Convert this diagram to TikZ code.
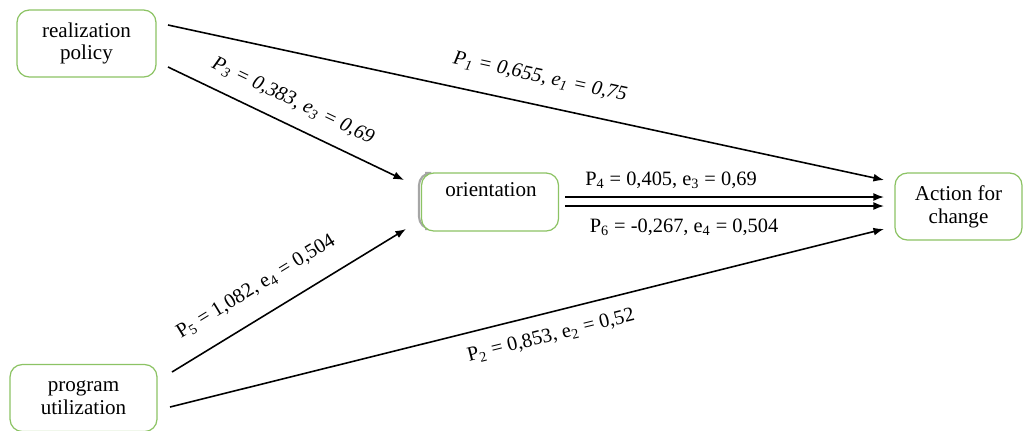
\documentclass[tikz,border=0pt]{standalone}
\usepackage{fontspec}
\setmainfont{Liberation Serif}
\usetikzlibrary{arrows.meta}
\definecolor{boxgreen}{RGB}{140,195,100}
\begin{document}
\begin{tikzpicture}[x=0.02cm,y=-0.02cm,
  box/.style={draw=boxgreen,line width=0.7pt,rounded corners=7pt,fill=white,inner sep=0pt,align=center,font=\fontsize{12}{13}\selectfont},
  conn/.style={line width=0.9pt,-{Latex[length=6pt,width=4.5pt]}},
  lbl/.style={font=\fontsize{11.6}{13}\selectfont,inner sep=1pt}]
\useasboundingbox (0,0) rectangle (1024,430);
% boxes
\node[box,minimum width=2.78cm,minimum height=1.34cm] (rp) at (86.5,43.5) {realization\\policy};
\node[box,minimum width=2.94cm,minimum height=1.34cm] (pu) at (83.5,398) {program\\utilization};
\node[box,minimum width=2.54cm,minimum height=1.34cm] (ac) at (958.5,206.5) {Action for\\change};
\draw[gray!70,line width=1.2pt,rounded corners=7pt] (425,229) -- (419,229) -- (419,173) -- (425,173);
\node[box,minimum width=2.74cm,minimum height=1.16cm] (or) at (490,202) {};
\node[box,draw=none,fill=none] (ort) at (491,190) {orientation};
% connector endpoints
\coordinate (rp1) at (168,25);
\coordinate (rp2) at (168,67);
\coordinate (pu1) at (172,372);
\coordinate (pu2) at (170,407);
\coordinate (or1) at (404,180);
\coordinate (or2) at (406,229);
\coordinate (ac1) at (884,180);
\coordinate (ac2) at (884,229);
\coordinate (ora) at (565,197);
\coordinate (orb) at (565,206);
\coordinate (aca) at (884,197);
\coordinate (acb) at (884,206);
% connectors
\draw[conn] (rp1) -- (ac1);
\draw[conn] (rp2) -- (or1);
\draw[conn] (pu1) -- (or2);
\draw[conn] (pu2) -- (ac2);
\draw[conn] (ora) -- (aca);
\draw[conn] (orb) -- (acb);
% labels
\node[lbl,rotate=-12.2] (l1) at (540,77) {\itshape P\textsubscript{1} = 0,655, e\textsubscript{1} = 0,75};
\node[lbl,rotate=-25.6] (l3) at (293,101) {\itshape P\textsubscript{3} = 0,383, e\textsubscript{3} = 0,69};
\node[lbl,rotate=31.4] (l5) at (256,287) {P\textsubscript{5} = 1,082, e\textsubscript{4} = 0,504};
\node[lbl,rotate=14] (l2) at (551,336) {P\textsubscript{2} = 0,853, e\textsubscript{2} = 0,52};
\node[lbl] (l4) at (671,180) {P\textsubscript{4} = 0,405, e\textsubscript{3} = 0,69};
\node[lbl] (l6) at (684,227) {P\textsubscript{6} = -0,267, e\textsubscript{4} = 0,504};
\end{tikzpicture}
\end{document}
